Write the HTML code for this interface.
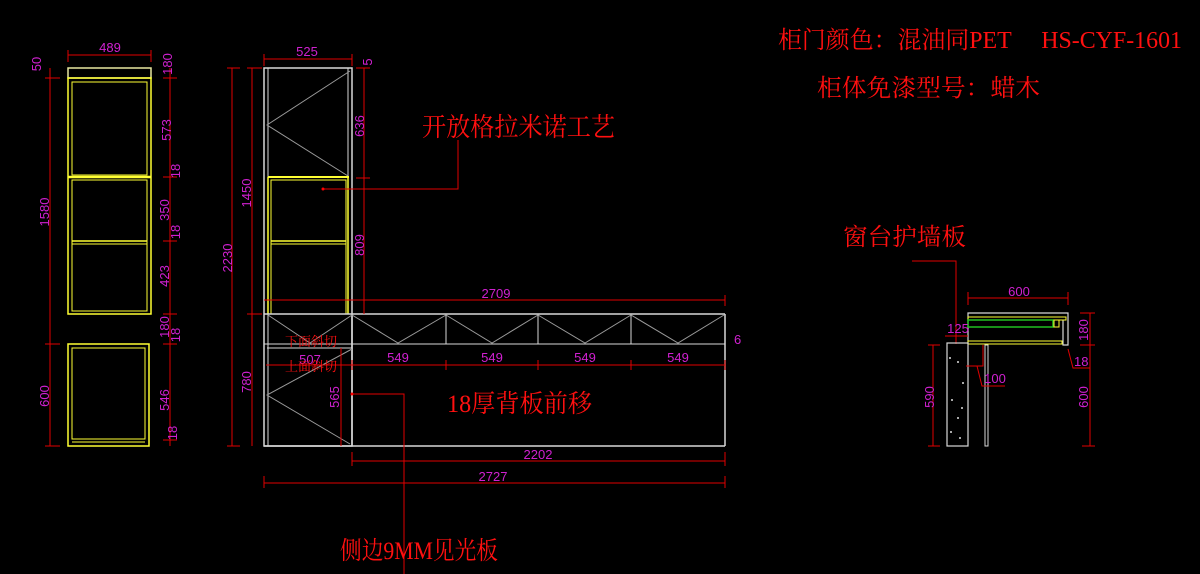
<!DOCTYPE html>
<html><head><meta charset="utf-8"><style>
html,body{margin:0;padding:0;background:#000;}
svg{display:block;}
.w{stroke:#d8d8d8;stroke-width:1.5;fill:none}
.d{stroke:#9a9a9a;stroke-width:1;fill:none}
.y{stroke:#ffff33;stroke-width:1.5;fill:none}
.r{stroke:#e00000;stroke-width:1;fill:none}
.m{fill:#d020d0;font-family:"Liberation Sans",sans-serif;font-size:13px}
.t{fill:#ff1010;font-family:"Liberation Serif","Noto Serif CJK SC",serif}
</style></head><body>
<svg width="1200" height="574" viewBox="0 0 1200 574" xmlns="http://www.w3.org/2000/svg">
<rect width="1200" height="574" fill="#000"/>
<!-- Left cabinet -->
<rect x="68" y="68" width="83" height="10" class="w" style="stroke:#e8e8a0"/>
<rect x="68" y="78" width="83" height="236" class="y"/>
<rect x="72" y="82" width="75" height="93" class="y" style="stroke-width:1"/>
<line x1="68" y1="177" x2="151" y2="177" class="y" style="stroke-width:2.5"/>
<rect x="72" y="180" width="75" height="131" class="y" style="stroke-width:1"/>
<line x1="72" y1="241" x2="147" y2="241" class="y"/>
<line x1="72" y1="244" x2="147" y2="244" class="y" style="stroke-width:1"/>
<rect x="68" y="344" width="81" height="102" class="y"/>
<rect x="72" y="348" width="73" height="91" class="y" style="stroke-width:1"/>
<line x1="72" y1="442" x2="145" y2="442" class="y" style="stroke-width:1"/>
<!-- left dims -->
<line x1="68" y1="55" x2="151" y2="55" class="r"/><line x1="68" y1="50" x2="68" y2="62" class="r"/><line x1="151" y1="50" x2="151" y2="62" class="r"/>
<text x="110" y="52" class="m" text-anchor="middle">489</text>
<line x1="50" y1="68" x2="50" y2="446" class="r"/>
<line x1="45" y1="344" x2="60" y2="344" class="r"/><line x1="45" y1="446" x2="60" y2="446" class="r"/><line x1="45" y1="78" x2="60" y2="78" class="r"/>
<text transform="translate(49,212) rotate(-90)" class="m" text-anchor="middle">1580</text>
<text transform="translate(49,396) rotate(-90)" class="m" text-anchor="middle">600</text>
<text transform="translate(41,64) rotate(-90)" class="m" text-anchor="middle">50</text>
<line x1="170" y1="68" x2="170" y2="446" class="r"/>
<g class="r"><line x1="163" y1="78" x2="177" y2="78"/><line x1="163" y1="177" x2="177" y2="177"/><line x1="163" y1="241" x2="177" y2="241"/><line x1="163" y1="314" x2="177" y2="314"/><line x1="163" y1="344" x2="177" y2="344"/><line x1="163" y1="440" x2="177" y2="440"/></g>
<text transform="translate(172,64) rotate(-90)" class="m" text-anchor="middle">180</text>
<text transform="translate(171,130) rotate(-90)" class="m" text-anchor="middle">573</text>
<text transform="translate(180,171) rotate(-90)" class="m" text-anchor="middle">18</text>
<text transform="translate(169,210) rotate(-90)" class="m" text-anchor="middle">350</text>
<text transform="translate(180,232) rotate(-90)" class="m" text-anchor="middle">18</text>
<text transform="translate(169,276) rotate(-90)" class="m" text-anchor="middle">423</text>
<text transform="translate(169,327) rotate(-90)" class="m" text-anchor="middle">180</text>
<text transform="translate(180,335) rotate(-90)" class="m" text-anchor="middle">18</text>
<text transform="translate(169,400) rotate(-90)" class="m" text-anchor="middle">546</text>
<text transform="translate(177,433) rotate(-90)" class="m" text-anchor="middle">18</text>
<!-- Middle tall cabinet -->
<rect x="264" y="68" width="88" height="378" class="w"/>
<line x1="268" y1="68" x2="268" y2="446" class="w" style="stroke-width:1"/>
<line x1="348" y1="68" x2="348" y2="314" class="w" style="stroke-width:1"/>
<polyline points="350,71 267,125 348,176" class="d"/>
<line x1="268" y1="177" x2="349" y2="177" class="y" style="stroke-width:2"/>
<rect x="271" y="180" width="75" height="134" class="y" style="stroke-width:1"/>
<line x1="268" y1="177" x2="268" y2="314" class="y"/>
<line x1="348" y1="177" x2="348" y2="314" class="y"/>
<line x1="271" y1="241" x2="346" y2="241" class="y"/>
<line x1="271" y1="244" x2="346" y2="244" class="y" style="stroke-width:1"/>
<!-- lower long -->
<line x1="264" y1="314" x2="725" y2="314" class="w"/>
<line x1="264" y1="344" x2="725" y2="344" class="w" style="stroke-width:1"/>
<line x1="267" y1="348" x2="352" y2="348" class="w" style="stroke-width:1"/>
<line x1="264" y1="446" x2="725" y2="446" class="w"/>
<line x1="725" y1="314" x2="725" y2="446" class="w"/>
<line x1="352" y1="314" x2="352" y2="446" class="w"/>
<g class="w" style="stroke-width:1"><line x1="446" y1="314" x2="446" y2="344"/><line x1="538" y1="314" x2="538" y2="344"/><line x1="631" y1="314" x2="631" y2="344"/></g>
<g class="d"><polyline points="268,315 310,343 352,315"/><polyline points="352,315 398,343 446,315"/><polyline points="446,315 492,343 538,315"/><polyline points="538,315 585,343 631,315"/><polyline points="631,315 678,343 724,315"/>
<polyline points="352,349 267,395 350,444"/></g>
<!-- middle dims -->
<line x1="264" y1="59" x2="352" y2="59" class="r"/><line x1="264" y1="54" x2="264" y2="66" class="r"/><line x1="352" y1="54" x2="352" y2="66" class="r"/>
<text x="307" y="56" class="m" text-anchor="middle">525</text>
<text transform="translate(372,62) rotate(-90)" class="m" text-anchor="middle">5</text>
<line x1="232" y1="68" x2="232" y2="446" class="r"/><line x1="227" y1="68" x2="240" y2="68" class="r"/><line x1="227" y1="446" x2="240" y2="446" class="r"/>
<text transform="translate(232,258) rotate(-90)" class="m" text-anchor="middle">2230</text>
<line x1="252" y1="68" x2="252" y2="446" class="r"/><line x1="247" y1="68" x2="262" y2="68" class="r"/><line x1="247" y1="314" x2="262" y2="314" class="r"/>
<text transform="translate(251,193) rotate(-90)" class="m" text-anchor="middle">1450</text>
<text transform="translate(251,382) rotate(-90)" class="m" text-anchor="middle">780</text>
<line x1="364" y1="68" x2="364" y2="314" class="r"/><line x1="356" y1="178" x2="370" y2="178" class="r"/><line x1="356" y1="68" x2="370" y2="68" class="r"/>
<text transform="translate(364,126) rotate(-90)" class="m" text-anchor="middle">636</text>
<text transform="translate(364,245) rotate(-90)" class="m" text-anchor="middle">809</text>
<line x1="264" y1="300" x2="725" y2="300" class="r"/><line x1="725" y1="295" x2="725" y2="306" class="r"/>
<text x="496" y="298" class="m" text-anchor="middle">2709</text>
<line x1="266" y1="365" x2="725" y2="365" class="r"/>
<g class="r"><line x1="352" y1="360" x2="352" y2="370"/><line x1="446" y1="360" x2="446" y2="370"/><line x1="538" y1="360" x2="538" y2="370"/><line x1="631" y1="360" x2="631" y2="370"/><line x1="725" y1="360" x2="725" y2="370"/></g>
<text x="310" y="364" class="m" text-anchor="middle">507</text>
<text x="398" y="362" class="m" text-anchor="middle">549</text>
<text x="492" y="362" class="m" text-anchor="middle">549</text>
<text x="585" y="362" class="m" text-anchor="middle">549</text>
<text x="678" y="362" class="m" text-anchor="middle">549</text>
<text x="734" y="344" class="m">6</text>
<line x1="341" y1="348" x2="341" y2="446" class="r"/>
<text transform="translate(339,397) rotate(-90)" class="m" text-anchor="middle">565</text>
<line x1="352" y1="461" x2="725" y2="461" class="r"/><line x1="352" y1="452" x2="352" y2="466" class="r"/><line x1="725" y1="452" x2="725" y2="466" class="r"/>
<text x="538" y="459" class="m" text-anchor="middle">2202</text>
<line x1="264" y1="483" x2="725" y2="483" class="r"/><line x1="264" y1="476" x2="264" y2="488" class="r"/><line x1="725" y1="476" x2="725" y2="488" class="r"/>
<text x="493" y="481" class="m" text-anchor="middle">2727</text>
<!-- red leaders -->
<polyline points="323,189 458,189 458,140" class="r"/><circle cx="323" cy="189" r="1.5" fill="#f00"/>
<polyline points="352,394 404,394 404,574" class="r"/><circle cx="352" cy="394" r="1.5" fill="#f00"/>
<text x="285" y="346" class="t" font-size="13">下面斜切</text>
<text x="285" y="371" class="t" font-size="13">上面斜切</text>
<text x="422" y="136" class="t" font-size="26" textLength="193" lengthAdjust="spacingAndGlyphs">开放格拉米诺工艺</text>
<text x="447" y="412" class="t" font-size="25" textLength="145" lengthAdjust="spacingAndGlyphs">18厚背板前移</text>
<text x="340" y="559" class="t" font-size="25" textLength="158" lengthAdjust="spacingAndGlyphs">侧边9MM见光板</text>
<text x="778" y="48" class="t" font-size="24" textLength="404" lengthAdjust="spacingAndGlyphs">柜门颜色：混油同PET　 HS-CYF-1601</text>
<text x="817" y="96" class="t" font-size="24" textLength="223" lengthAdjust="spacingAndGlyphs">柜体免漆型号：蜡木</text>
<text x="843" y="245" class="t" font-size="24" textLength="123" lengthAdjust="spacingAndGlyphs">窗台护墙板</text>
<!-- right detail -->
<polyline points="912,261 956,261 956,344" class="r"/>
<line x1="968" y1="298" x2="1068" y2="298" class="r"/><line x1="968" y1="292" x2="968" y2="305" class="r"/><line x1="1068" y1="292" x2="1068" y2="305" class="r"/>
<text x="1019" y="296" class="m" text-anchor="middle">600</text>
<polyline points="968,344 968,313 1068,313 1068,345 1063,345 1063,320" class="w" style="stroke-width:1.2"/>
<rect x="968" y="317" width="98" height="3" class="y" style="stroke-width:1"/>
<rect x="968" y="320" width="85" height="7" style="fill:none;stroke:#20c020;stroke-width:1.5"/>
<rect x="1054" y="320" width="5" height="7" class="y" style="stroke-width:1"/>
<rect x="968" y="341" width="94" height="3" class="y" style="stroke-width:1"/>
<rect x="947" y="343" width="21" height="103" class="w" style="stroke-width:1.2"/>
<g fill="#ddd"><circle cx="950" cy="358" r="1"/><circle cx="958" cy="362" r="1"/><circle cx="963" cy="383" r="1"/><circle cx="952" cy="400" r="1"/><circle cx="962" cy="408" r="1"/><circle cx="958" cy="418" r="1"/><circle cx="951" cy="432" r="1"/><circle cx="960" cy="438" r="1"/></g>
<rect x="985" y="345" width="3" height="101" class="w" style="stroke-width:1"/>
<line x1="945" y1="336" x2="968" y2="336" class="r"/>
<text x="958" y="333" class="m" text-anchor="middle">125</text>
<polyline points="966,366 983,366 983,345" class="r"/><polyline points="977,366 982,386 1005,386" class="r"/>
<text x="995" y="383" class="m" text-anchor="middle">100</text>
<line x1="933" y1="345" x2="933" y2="446" class="r"/><line x1="928" y1="345" x2="940" y2="345" class="r"/><line x1="928" y1="446" x2="940" y2="446" class="r"/>
<text transform="translate(934,397) rotate(-90)" class="m" text-anchor="middle">590</text>
<line x1="1090" y1="313" x2="1090" y2="446" class="r"/><line x1="1080" y1="313" x2="1095" y2="313" class="r"/><line x1="1080" y1="345" x2="1095" y2="345" class="r"/><line x1="1082" y1="446" x2="1095" y2="446" class="r"/>
<text transform="translate(1088,330) rotate(-90)" class="m" text-anchor="middle">180</text>
<text transform="translate(1088,397) rotate(-90)" class="m" text-anchor="middle">600</text>
<polyline points="1068,349 1073,368 1090,368" class="r"/>
<text x="1074" y="366" class="m">18</text>
</svg>
</body></html>
